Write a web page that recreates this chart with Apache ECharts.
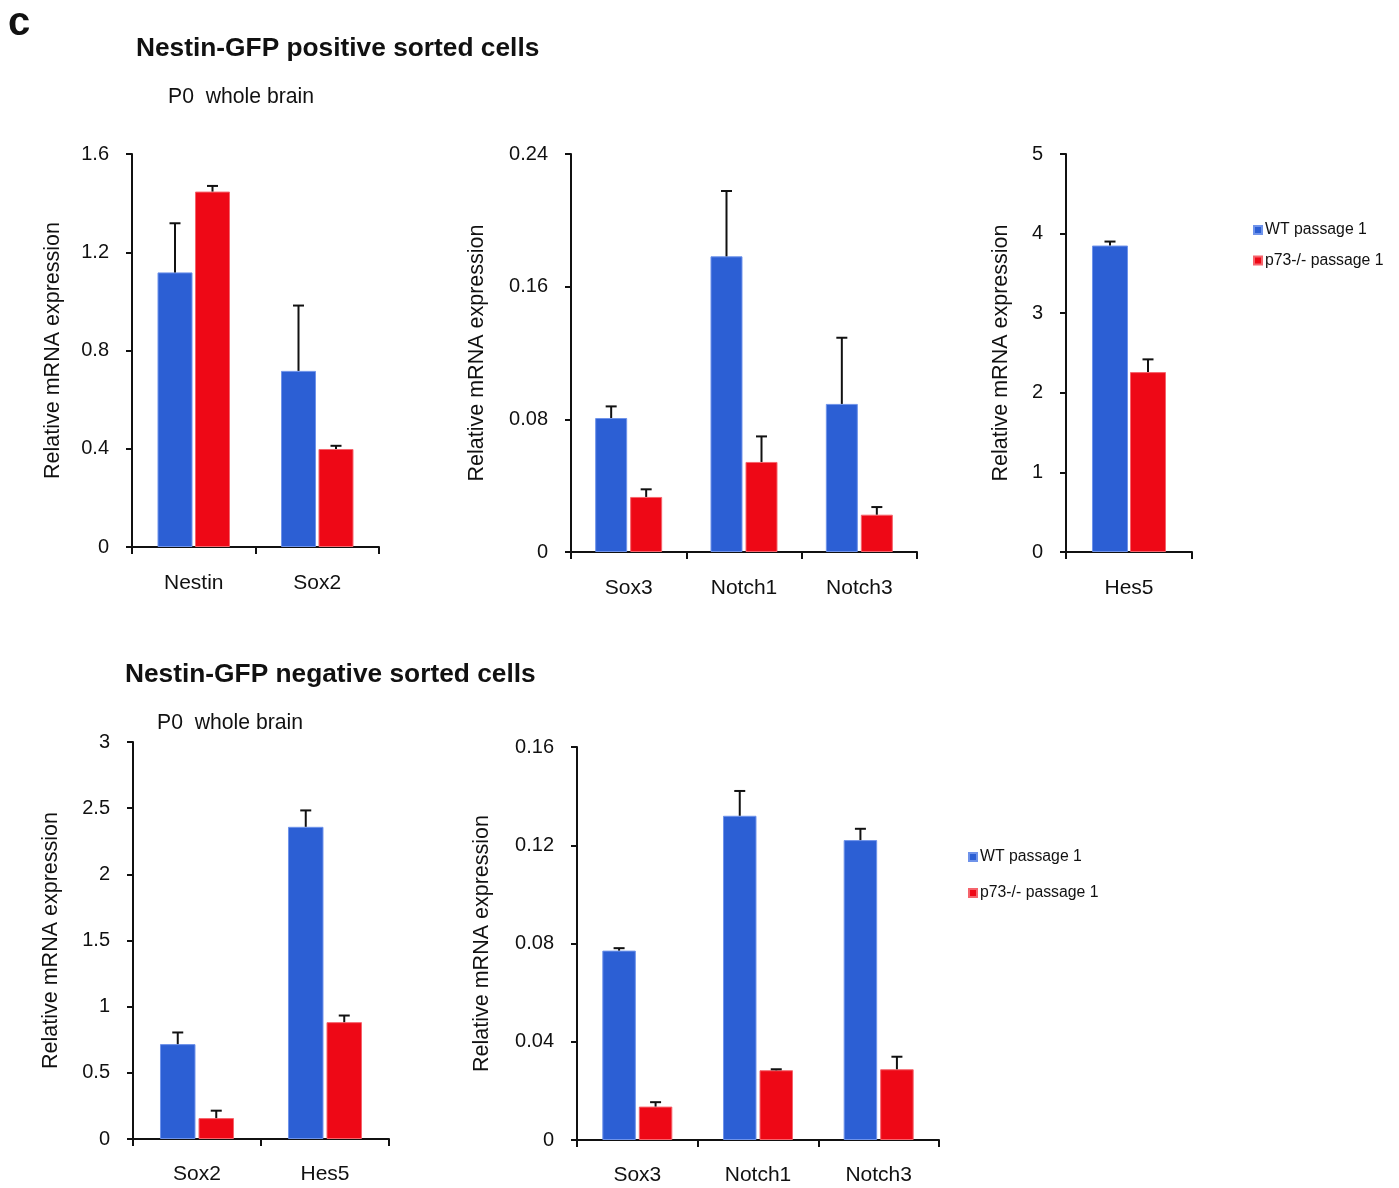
<!DOCTYPE html>
<html>
<head>
<meta charset="utf-8">
<title>Nestin-GFP sorted cells – relative mRNA expression</title>
<script src="https://cdn.jsdelivr.net/npm/echarts@6/dist/echarts.min.js"></script>
<style>
  html, body { margin: 0; padding: 0; background: #fff; }
  #chart { width: 1399px; height: 1188px; }
</style>
</head>
<body>
<div id="chart"></div>
<script>
// ---- Data: P0 whole brain, Nestin-GFP positive sorted cells ----
const posGenesA = ['Nestin', 'Sox2'];
const posWT_A = [1.118, 0.717];
const posWT_A_err = [0.200, 0.266];
const posKO_A = [1.447, 0.399];
const posKO_A_err = [0.023, 0.013];
const posTicksA = [0, 0.4, 0.8, 1.2, 1.6];

const posGenesB = ['Sox3', 'Notch1', 'Notch3'];
const posWT_B = [0.0808, 0.1783, 0.0893];
const posWT_B_err = [0.0070, 0.0394, 0.0399];
const posKO_B = [0.0332, 0.0543, 0.0225];
const posKO_B_err = [0.0046, 0.0154, 0.0046];
const posTicksB = [0, 0.08, 0.16, 0.24];

const posGenesC = ['Hes5'];
const posWT_C = [3.85];
const posWT_C_err = [0.05];
const posKO_C = [2.26];
const posKO_C_err = [0.16];
const posTicksC = [0, 1, 2, 3, 4, 5];

// ---- Data: P0 whole brain, Nestin-GFP negative sorted cells ----
const negGenesA = ['Sox2', 'Hes5'];
const negWT_A = [0.717, 2.359];
const negWT_A_err = [0.088, 0.124];
const negKO_A = [0.158, 0.883];
const negKO_A_err = [0.056, 0.050];
const negTicksA = [0, 0.5, 1, 1.5, 2, 2.5, 3];

const negGenesB = ['Sox3', 'Notch1', 'Notch3'];
const negWT_B = [0.0771, 0.1320, 0.1221];
const negWT_B_err = [0.0010, 0.0101, 0.0046];
const negKO_B = [0.0136, 0.0284, 0.0288];
const negKO_B_err = [0.0018, 0.0004, 0.0051];
const negTicksB = [0, 0.04, 0.08, 0.12, 0.16];

const seriesNames = ['WT passage 1', 'p73-/- passage 1'];
const yAxisTitle = 'Relative mRNA expression';

// ---- Styling ----
const FONT = '"Liberation Sans", Arial, Helvetica, sans-serif';
const INK = '#111111';
const BLUE = '#2c5fd4';
const RED = '#ee0816';

// One entry per plot: data references plus its placement on the page
const panels = [
  { cats: posGenesA, wt: posWT_A, wtErr: posWT_A_err, ko: posKO_A, koErr: posKO_A_err, ticks: posTicksA,
    left: 132, top: 154, width: 247, height: 393, barWidth: 35, gapPx: 2.5, nameGap: 68, catMargin: 26 },
  { cats: posGenesB, wt: posWT_B, wtErr: posWT_B_err, ko: posKO_B, koErr: posKO_B_err, ticks: posTicksB,
    left: 571, top: 154, width: 346, height: 398, barWidth: 32, gapPx: 3, nameGap: 83, catMargin: 26 },
  { cats: posGenesC, wt: posWT_C, wtErr: posWT_C_err, ko: posKO_C, koErr: posKO_C_err, ticks: posTicksC,
    left: 1066, top: 154, width: 126, height: 398, barWidth: 36, gapPx: 2, nameGap: 54, catMargin: 26 },
  { cats: negGenesA, wt: negWT_A, wtErr: negWT_A_err, ko: negKO_A, koErr: negKO_A_err, ticks: negTicksA,
    left: 133, top: 742, width: 256, height: 397, barWidth: 35.5, gapPx: 3, nameGap: 71, catMargin: 25 },
  { cats: negGenesB, wt: negWT_B, wtErr: negWT_B_err, ko: negKO_B, koErr: negKO_B_err, ticks: negTicksB,
    left: 577, top: 747, width: 362, height: 393, barWidth: 33.5, gapPx: 3, nameGap: 84, catMargin: 25 }
];

function decimalsOf(ticks) {
  let d = 0;
  ticks.forEach(t => {
    const s = String(t);
    const i = s.indexOf('.');
    if (i >= 0) d = Math.max(d, s.length - i - 1);
  });
  return d;
}

// Upper-only error bar with a short cap, shifted to sit over its own bar
function errorBarRenderer(offsetPx) {
  return function (params, api) {
    const idx = api.value(0);
    const mean = api.value(1);
    const err = api.value(2);
    const base = api.coord([idx, mean]);
    const topPt = api.coord([idx, mean + err]);
    const x = base[0] + offsetPx;
    const cap = 5.5;
    const style = { stroke: INK, lineWidth: 2 };
    return {
      type: 'group',
      children: [
        { type: 'line', shape: { x1: x, y1: base[1], x2: x, y2: topPt[1] }, style: style },
        { type: 'line', shape: { x1: x - cap, y1: topPt[1], x2: x + cap, y2: topPt[1] }, style: style }
      ]
    };
  };
}

const grids = [], xAxes = [], yAxes = [], series = [];

panels.forEach((p, k) => {
  grids.push({ left: p.left, top: p.top, width: p.width, height: p.height, containLabel: false });

  xAxes.push({
    type: 'category', gridIndex: k, data: p.cats,
    axisLine: { show: true, lineStyle: { color: INK, width: 2 } },
    axisTick: { show: true, length: 7, lineStyle: { color: INK, width: 2 } },
    axisLabel: { color: INK, fontFamily: FONT, fontSize: 21, margin: p.catMargin }
  });

  const dec = decimalsOf(p.ticks);
  const step = +(p.ticks[1] - p.ticks[0]).toFixed(6);
  yAxes.push({
    type: 'value', gridIndex: k,
    min: p.ticks[0], max: p.ticks[p.ticks.length - 1], interval: step,
    name: yAxisTitle, nameLocation: 'middle', nameRotate: 90, nameGap: p.nameGap,
    nameTextStyle: { color: INK, fontFamily: FONT, fontSize: 21.5 },
    axisLine: { show: true, lineStyle: { color: INK, width: 2 } },
    axisTick: { show: true, length: 6, lineStyle: { color: INK, width: 2 } },
    splitLine: { show: false },
    axisLabel: {
      color: INK, fontFamily: FONT, fontSize: 20, margin: 23,
      formatter: v => {
        const r = +v.toFixed(dec);
        return p.ticks.indexOf(r) >= 0 || r === 0 ? String(r) : '';
      }
    }
  });

  const gapPct = (p.gapPx / p.barWidth * 100).toFixed(1) + '%';
  const half = (p.barWidth + p.gapPx) / 2;

  series.push({
    name: seriesNames[0], type: 'bar', xAxisIndex: k, yAxisIndex: k,
    data: p.wt, barWidth: p.barWidth, barGap: gapPct,
    itemStyle: { color: BLUE, borderColor: '#6f93ea', borderWidth: 1 },
    emphasis: { disabled: true }
  });
  series.push({
    name: seriesNames[1], type: 'bar', xAxisIndex: k, yAxisIndex: k,
    data: p.ko, barWidth: p.barWidth, barGap: gapPct,
    itemStyle: { color: RED, borderColor: '#f5646c', borderWidth: 1 },
    emphasis: { disabled: true }
  });
  series.push({
    name: seriesNames[0], type: 'custom', xAxisIndex: k, yAxisIndex: k, z: 5,
    renderItem: errorBarRenderer(-half),
    data: p.wt.map((v, i) => [i, v, p.wtErr[i]]),
    silent: true
  });
  series.push({
    name: seriesNames[1], type: 'custom', xAxisIndex: k, yAxisIndex: k, z: 5,
    renderItem: errorBarRenderer(half),
    data: p.ko.map((v, i) => [i, v, p.koErr[i]]),
    silent: true
  });
});

const titleText = (text, left, top, size, bold) => ({
  text: text, left: left, top: top, padding: 0,
  textStyle: { color: INK, fontFamily: FONT, fontSize: size, fontWeight: bold ? 'bold' : 'normal' }
});

const legendBlock = (left, top, gap) => ({
  data: seriesNames, orient: 'vertical', left: left, top: top, itemGap: gap,
  icon: 'rect', itemWidth: 8, itemHeight: 8, padding: 0,
  textStyle: { color: INK, fontFamily: FONT, fontSize: 15.8, padding: [0, 0, 0, -2] },
  selectedMode: false
});

const chart = echarts.init(document.getElementById('chart'), null, { renderer: 'canvas' });
chart.setOption({
  backgroundColor: '#ffffff',
  animation: false,
  title: [
    titleText('c', 8, 4, 40, true),
    titleText('Nestin-GFP positive sorted cells', 136, 36, 26.3, true),
    titleText('P0  whole brain', 168, 87, 21.2, false),
    titleText('Nestin-GFP negative sorted cells', 125, 662, 26.3, true),
    titleText('P0  whole brain', 157, 713, 21.2, false)
  ],
  legend: [
    legendBlock(1253, 222, 14.5),
    legendBlock(968, 849, 20)
  ],
  grid: grids,
  xAxis: xAxes,
  yAxis: yAxes,
  series: series
});
</script>
</body>
</html>
